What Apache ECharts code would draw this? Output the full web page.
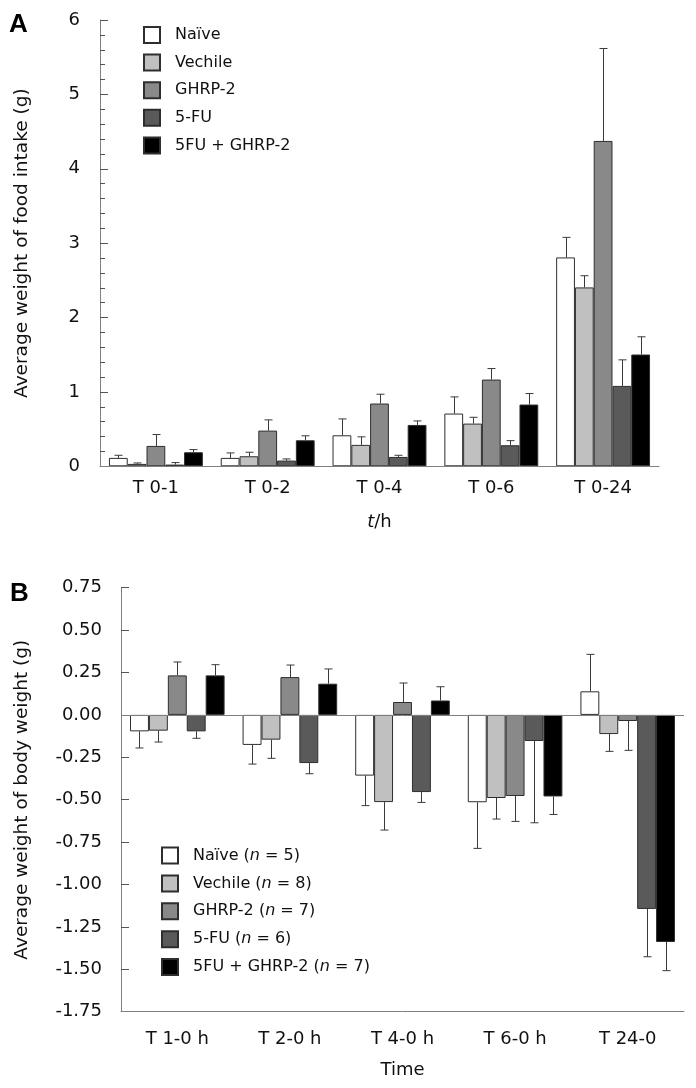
<!DOCTYPE html>
<html><head><meta charset="utf-8">
<script src="https://cdn.jsdelivr.net/npm/echarts@6/dist/echarts.min.js"></script>
<style>html,body{margin:0;padding:0;background:#fff}#c{width:696px;height:1088px}</style>
</head><body><div id="c"></div>
<script>
// ---------- Data: panel A (food intake, g) ----------
const groupNamesA = ['Naïve', 'Vechile', 'GHRP-2', '5-FU', '5FU + GHRP-2'];
const categoriesA = ['T 0-1', 'T 0-2', 'T 0-4', 'T 0-6', 'T 0-24'];
const naiveA    = [0.113, 0.113, 0.417, 0.709, 2.808];
const vechileA  = [0.032, 0.135, 0.288, 0.574, 2.405];
const ghrpA     = [0.274, 0.480, 0.844, 1.166, 4.374];
const fuA       = [0.023, 0.077, 0.126, 0.283, 1.081];
const comboA    = [0.189, 0.350, 0.556, 0.830, 1.503];
const naiveA_sem   = [0.035, 0.067, 0.220, 0.224, 0.270];
const vechileA_sem = [0.013, 0.054, 0.108, 0.085, 0.157];
const ghrpA_sem    = [0.153, 0.144, 0.125, 0.148, 1.243];
const fuA_sem      = [0.027, 0.022, 0.022, 0.062, 0.350];
const comboA_sem   = [0.036, 0.060, 0.054, 0.148, 0.238];
const yTicksA = [0, 1, 2, 3, 4, 5, 6];

// ---------- Data: panel B (body weight change, g) ----------
const groupNamesB = ['Naïve (n = 5)', 'Vechile (n = 8)', 'GHRP-2 (n = 7)', '5-FU (n = 6)', '5FU + GHRP-2 (n = 7)'];
const categoriesB = ['T 1-0 h', 'T 2-0 h', 'T 4-0 h', 'T 6-0 h', 'T 24-0'];
const naiveB    = [-0.097, -0.177, -0.358, -0.515, 0.139];
const vechileB  = [-0.093, -0.146, -0.514, -0.490, -0.113];
const ghrpB     = [0.233, 0.223, 0.076, -0.478, -0.036];
const fuB       = [-0.097, -0.284, -0.455, -0.154, -1.144];
const comboB    = [0.233, 0.184, 0.085, -0.481, -1.339];
const naiveB_sem   = [0.098, 0.113, 0.177, 0.272, 0.218];
const vechileB_sem = [0.067, 0.110, 0.165, 0.124, 0.102];
const ghrpB_sem    = [0.079, 0.071, 0.112, 0.150, 0.173];
const fuB_sem      = [0.041, 0.063, 0.061, 0.482, 0.282];
const comboB_sem   = [0.063, 0.087, 0.081, 0.106, 0.169];
const yTicksB = [-1.75, -1.5, -1.25, -1, -0.75, -0.5, -0.25, 0, 0.25, 0.5, 0.75];

// ---------- Styling ----------
const fills = ['#ffffff', '#c0c0c0', '#898989', '#5a5a5a', '#000000'];
const FONT = 'DejaVu Sans';
const GAP = 0.16;
const axisGrey = '#7f7f7f';

const valuesA = [naiveA, vechileA, ghrpA, fuA, comboA];
const semsA = [naiveA_sem, vechileA_sem, ghrpA_sem, fuA_sem, comboA_sem];
const valuesB = [naiveB, vechileB, ghrpB, fuB, comboB];
const semsB = [naiveB_sem, vechileB_sem, ghrpB_sem, fuB_sem, comboB_sem];

function errData(values, sems) {
  const out = [];
  values.forEach((arr, si) => arr.forEach((v, ci) => out.push([ci, si, v, sems[si][ci]])));
  return out;
}

function errRender(params, api) {
  const ci = api.value(0), si = api.value(1), v = api.value(2), e = api.value(3);
  const end = v >= 0 ? v + e : v - e;
  const base = api.coord([ci, v]);
  const tip = api.coord([ci, end]);
  const band = api.size([1, 0])[0];
  const bw = band * (1 - GAP) / 5;
  const x = Math.round(base[0] + (si - 2) * bw) + 0.5;
  const st = { stroke: '#3a3a3a', lineWidth: 1 };
  return {
    type: 'group',
    children: [
      { type: 'line', shape: { x1: x, y1: base[1], x2: x, y2: tip[1] }, style: st },
      { type: 'line', shape: { x1: x - 4, y1: tip[1], x2: x + 4, y2: tip[1] }, style: st }
    ]
  };
}

function barSeries(names, values, xi, yi, withZeroLine) {
  return names.map((n, i) => {
    const s = {
      name: n, type: 'bar', xAxisIndex: xi, yAxisIndex: yi,
      data: values[i], barGap: '0%', barCategoryGap: (GAP * 100) + '%',
      itemStyle: { color: fills[i], borderColor: '#2e2e2e', borderWidth: 1 },
      emphasis: { disabled: true }, animation: false
    };
    if (withZeroLine && i === 0) {
      s.markLine = {
        silent: true, symbol: 'none', label: { show: false },
        lineStyle: { color: axisGrey, width: 1, type: 'solid' },
        data: [{ yAxis: 0 }], animation: false
      };
    }
    return s;
  });
}

const chart = echarts.init(document.getElementById('c'), null, { renderer: 'canvas' });

const legendText = {
  fontFamily: FONT, fontSize: 16, color: '#111', lineHeight: 16, padding: [0, 0, 0, 10],
  rich: { i: { fontFamily: FONT, fontSize: 16, fontStyle: 'italic', color: '#111' } }
};

const option = {
  animation: false,
  backgroundColor: '#fff',
  textStyle: { fontFamily: FONT },
  graphic: [
    { type: 'text', left: 9, top: 12, style: { text: 'A', font: 'bold 26px "Liberation Sans"', fill: '#000' } },
    { type: 'text', left: 10, top: 581, style: { text: 'B', font: 'bold 26px "Liberation Sans"', fill: '#000' } }
  ],
  legend: [
    {
      data: groupNamesA, orient: 'vertical', left: 143, top: 26, padding: 0,
      itemWidth: 16, itemHeight: 16, itemGap: 9.6, selectedMode: false,
      icon: 'rect', textStyle: legendText
    },
    {
      data: groupNamesB, orient: 'vertical', left: 161, top: 846.5, padding: 0,
      itemWidth: 16, itemHeight: 16, itemGap: 9.9, selectedMode: false,
      icon: 'rect', textStyle: legendText,
      formatter: n => n.replace('(n =', '({i|n} =')
    }
  ],
  grid: [
    { left: 100, right: 37, top: 20, bottom: 1088 - 466.3 },
    { left: 121, right: 12, top: 587.7, bottom: 1088 - 1011.7 }
  ],
  xAxis: [
    {
      type: 'category', gridIndex: 0, data: categoriesA, z: 10,
      axisLine: { lineStyle: { color: axisGrey, width: 1 } },
      axisTick: { inside: true, alignWithLabel: true, length: 8, lineStyle: { color: '#555' } },
      axisLabel: { fontFamily: FONT, fontSize: 18, color: '#111', margin: 13 },
      name: '{i|t}/h', nameLocation: 'middle', nameGap: 47,
      nameTextStyle: { fontFamily: FONT, fontSize: 18, color: '#111',
        rich: { i: { fontFamily: FONT, fontSize: 18, fontStyle: 'italic', color: '#111' } } }
    },
    {
      type: 'category', gridIndex: 1, data: categoriesB, z: 10,
      axisLine: { onZero: false, lineStyle: { color: axisGrey, width: 1 } },
      axisTick: { inside: true, alignWithLabel: true, length: 8, lineStyle: { color: '#555' } },
      axisLabel: { fontFamily: FONT, fontSize: 18, color: '#111', margin: 19 },
      name: 'Time', nameLocation: 'middle', nameGap: 50,
      nameTextStyle: { fontFamily: FONT, fontSize: 18, color: '#111' }
    }
  ],
  yAxis: [
    {
      type: 'value', gridIndex: 0, min: yTicksA[0], max: yTicksA[yTicksA.length - 1], interval: 1,
      splitLine: { show: false },
      axisLine: { show: true, lineStyle: { color: axisGrey, width: 1 } },
      axisTick: { show: true, inside: true, length: 8, lineStyle: { color: '#555' } },
      minorTick: { show: true, splitNumber: 5, length: 5, lineStyle: { color: '#555' } },
      axisLabel: { fontFamily: FONT, fontSize: 18, color: '#111', margin: 20 },
      name: 'Average weight of food intake (g)', nameLocation: 'middle', nameGap: 68,
      nameTextStyle: { fontFamily: FONT, fontSize: 18.5, color: '#111' }
    },
    {
      type: 'value', gridIndex: 1, min: yTicksB[0], max: yTicksB[yTicksB.length - 1], interval: 0.25,
      splitLine: { show: false },
      axisLine: { show: true, onZero: false, lineStyle: { color: axisGrey, width: 1 } },
      axisTick: { show: true, inside: true, length: 8, lineStyle: { color: '#555' } },
      axisLabel: { fontFamily: FONT, fontSize: 18, color: '#111', margin: 19, formatter: v => v.toFixed(2) },
      name: 'Average weight of body weight (g)', nameLocation: 'middle', nameGap: 89,
      nameTextStyle: { fontFamily: FONT, fontSize: 18.5, color: '#111' }
    }
  ],
  series: [
    ...barSeries(groupNamesA, valuesA, 0, 0, false),
    ...barSeries(groupNamesB, valuesB, 1, 1, true),
    { type: 'custom', xAxisIndex: 0, yAxisIndex: 0, data: errData(valuesA, semsA),
      encode: { x: 0, y: 2 }, renderItem: errRender, z: 5, silent: true, animation: false },
    { type: 'custom', xAxisIndex: 1, yAxisIndex: 1, data: errData(valuesB, semsB),
      encode: { x: 0, y: 2 }, renderItem: errRender, z: 5, silent: true, animation: false }
  ]
};
chart.setOption(option);
</script>
</body></html>
